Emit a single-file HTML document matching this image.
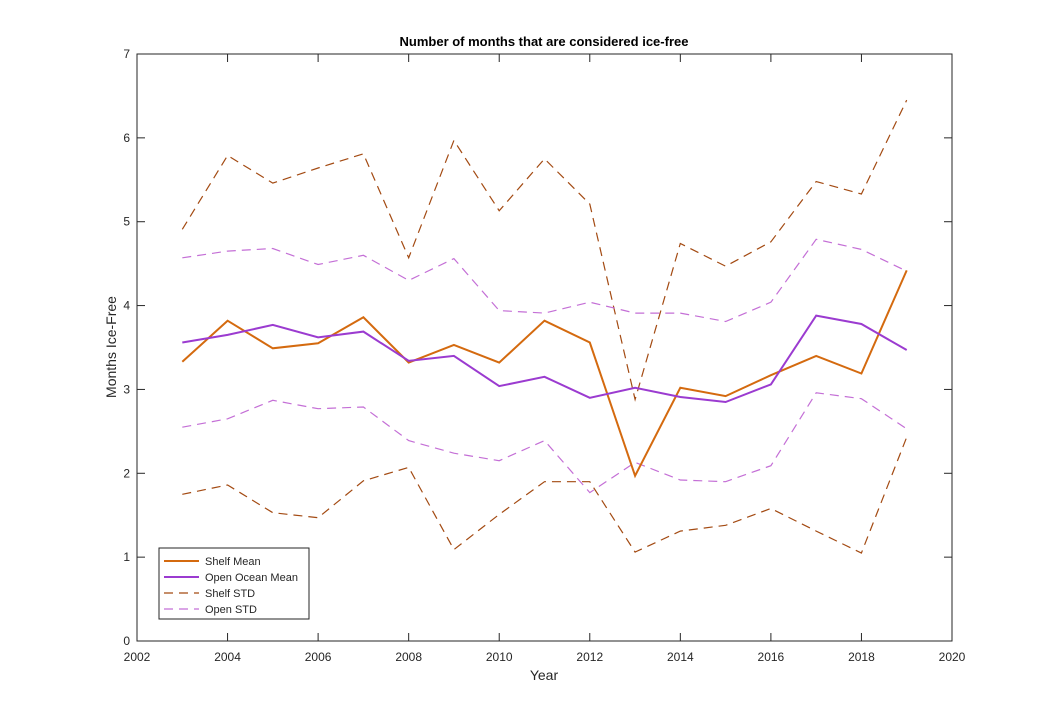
<!DOCTYPE html>
<html><head><meta charset="utf-8"><style>
body{margin:0;background:#fff;}
svg text{font-family:"Liberation Sans",Arial,sans-serif;fill:#262626;}
</style></head><body>
<svg id="chart" width="1054" height="720" xmlns="http://www.w3.org/2000/svg">
<rect width="1054" height="720" fill="#fff"/>
<text x="544" y="46" text-anchor="middle" font-size="13" font-weight="bold" style="fill:#000">Number of months that are considered ice-free</text>
<text x="544" y="680" text-anchor="middle" font-size="14">Year</text>
<text transform="translate(116,347) rotate(-90)" text-anchor="middle" font-size="14">Months Ice-Free</text>
<g id="axes"></g>
<g id="series"></g>
<g id="legend"></g>
</svg>
<script>
const years=[2003,2004,2005,2006,2007,2008,2009,2010,2011,2012,2013,2014,2015,2016,2017,2018,2019];
const shelfMean=[3.33,3.82,3.49,3.55,3.86,3.32,3.53,3.32,3.82,3.56,1.97,3.02,2.92,3.17,3.40,3.19,4.42];
const openMean=[3.56,3.65,3.77,3.62,3.69,3.34,3.40,3.04,3.15,2.90,3.02,2.91,2.85,3.06,3.88,3.78,3.47];
const shelfUpper=[4.91,5.79,5.46,5.64,5.81,4.57,5.97,5.13,5.75,5.21,2.88,4.74,4.47,4.76,5.48,5.33,6.45];
const shelfLower=[1.75,1.86,1.53,1.47,1.91,2.07,1.09,1.51,1.90,1.90,1.06,1.31,1.38,1.58,1.31,1.05,2.43];
const openUpper=[4.57,4.65,4.68,4.49,4.60,4.30,4.56,3.94,3.91,4.04,3.91,3.91,3.81,4.04,4.79,4.67,4.41];
const openLower=[2.55,2.65,2.87,2.77,2.79,2.39,2.24,2.15,2.39,1.77,2.13,1.92,1.90,2.09,2.96,2.89,2.53];
const xTicks=[2002,2004,2006,2008,2010,2012,2014,2016,2018,2020];
const yTicks=[0,1,2,3,4,5,6,7];
const L=137,R=952,T=54,B=641;
const xs=v=>L+(v-2002)/18*(R-L);
const ys=v=>B-v/7*(B-T);
const NS="http://www.w3.org/2000/svg";
function mk(tag,attrs,parent){const e=document.createElementNS(NS,tag);for(const k in attrs)e.setAttribute(k,attrs[k]);parent.appendChild(e);return e;}
const ax=document.getElementById('axes');
const frame=mk('rect',{x:L,y:T,width:R-L,height:B-T,fill:'none',stroke:'#262626','stroke-width':1},ax);


xTicks.forEach(t=>{
  const x=xs(t);
  mk('line',{x1:x,x2:x,y1:B,y2:B-8,stroke:'#262626'},ax);
  mk('line',{x1:x,x2:x,y1:T,y2:T+8,stroke:'#262626'},ax);
  const tx=mk('text',{x:x,y:B+20,'text-anchor':'middle','font-size':12},ax);
  tx.textContent=t;
  
  
});
yTicks.forEach(t=>{
  const y=ys(t);
  mk('line',{x1:L,x2:L+8,y1:y,y2:y,stroke:'#262626'},ax);
  mk('line',{x1:R,x2:R-8,y1:y,y2:y,stroke:'#262626'},ax);
  const tx=mk('text',{x:L-7,y:y+4,'text-anchor':'end','font-size':12},ax);
  tx.textContent=t;
  
  
});
const sg=document.getElementById('series');
function line(vals,color,w,dash,name){
  const d=vals.map((v,i)=>(i?'L':'M')+xs(years[i]).toFixed(1)+','+ys(v).toFixed(1)).join('');
  const p=mk('path',{d:d,fill:'none',stroke:color,'stroke-width':w},sg);
  if(dash)p.setAttribute('stroke-dasharray',dash);
  
  
}
line(shelfUpper,'#a34a12',1.2,'9,6','shelf-std-upper-line');
line(shelfLower,'#a34a12',1.2,'9,6','shelf-std-lower-line');
line(openUpper,'#c46fd6',1.2,'9,6','open-std-upper-line');
line(openLower,'#c46fd6',1.2,'9,6','open-std-lower-line');
line(shelfMean,'#d46a0f',2,null,'shelf-mean-line');
line(openMean,'#9b3bd0',2,null,'open-ocean-mean-line');
const lg=document.getElementById('legend');
mk('rect',{x:159,y:548,width:150,height:71,fill:'#fff',stroke:'#262626','stroke-width':1},lg);
const items=[['Shelf Mean','#d46a0f',2,null],['Open Ocean Mean','#9b3bd0',2,null],['Shelf STD','#a34a12',1.2,'9,6'],['Open STD','#c46fd6',1.2,'9,6']];
items.forEach((it,i)=>{
  const y=561+i*16;
  const l=mk('line',{x1:164,x2:199,y1:y,y2:y,stroke:it[1],'stroke-width':it[2]},lg);
  if(it[3])l.setAttribute('stroke-dasharray',it[3]);
  const tx=mk('text',{x:205,y:y+4,'font-size':11},lg);
  tx.textContent=it[0];
  
  
});
</script>
</body></html>
